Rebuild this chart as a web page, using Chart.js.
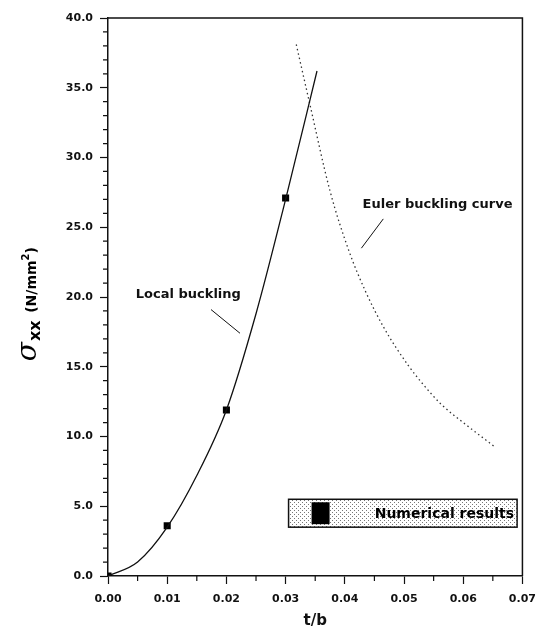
<!DOCTYPE html>
<html>
<head>
<meta charset="utf-8">
<script src="https://cdn.jsdelivr.net/npm/chart.js@4.4.1/dist/chart.umd.min.js"></script>
<style>
  html, body { margin: 0; padding: 0; background: #fff; }
  #wrap { width: 545px; height: 630px; }
</style>
</head>
<body>
<div id="wrap"><canvas id="chart" width="545" height="630"></canvas></div>
<script>
// local buckling curve (t/b, sigma_xx)
var localT = [0, 0.005, 0.01, 0.015, 0.02, 0.025, 0.03, 0.0353];
var localSigma = [0, 1.0, 3.5, 7.2, 11.9, 18.8, 27.0, 36.2];

// numerical results (squares)
var numT = [0, 0.01, 0.02, 0.03];
var numSigma = [0, 3.6, 11.9, 27.1];

// Euler buckling curve
var eulerT = [0.0318, 0.034, 0.0375, 0.0407, 0.0435, 0.0466, 0.0507, 0.0533, 0.0563, 0.0603, 0.0652];
var eulerSigma = [38.1, 34.0, 27.6, 23.3, 20.4, 17.8, 15.1, 13.7, 12.3, 10.9, 9.3];

var xTicks = [0, 0.01, 0.02, 0.03, 0.04, 0.05, 0.06, 0.07];
var yTicks = [0, 5, 10, 15, 20, 25, 30, 35, 40];

function toXY(xs, ys) {
  var out = [];
  for (var i = 0; i < xs.length; i++) out.push({x: xs[i], y: ys[i]});
  return out;
}

var boldFont = '"DejaVu Sans", sans-serif';

// stipple pattern for the legend box
function makeStipple(ctx) {
  var c = document.createElement('canvas');
  c.width = 4; c.height = 4;
  var g = c.getContext('2d');
  g.fillStyle = '#fff';
  g.fillRect(0, 0, 4, 4);
  g.fillStyle = '#777';
  g.fillRect(0, 0, 1, 1);
  g.fillRect(2, 2, 1, 1);
  return ctx.createPattern(c, 'repeat');
}

var extras = {
  id: 'extras',
  afterDraw: function(chart) {
    var ctx = chart.ctx;
    var a = chart.chartArea;
    var xs = chart.scales.x, ys = chart.scales.y;
    ctx.save();

    // frame top and right
    ctx.strokeStyle = '#111';
    ctx.lineWidth = 1.5;
    ctx.beginPath();
    ctx.moveTo(a.left, a.top);
    ctx.lineTo(a.right, a.top);
    ctx.lineTo(a.right, a.bottom);
    ctx.stroke();

    // minor ticks
    ctx.lineWidth = 1.2;
    ctx.beginPath();
    for (var v = 0.005; v < 0.07; v += 0.01) {
      var px = xs.getPixelForValue(v);
      ctx.moveTo(px, a.bottom);
      ctx.lineTo(px, a.bottom + 5);
    }
    for (var w = 1; w < 40; w++) {
      if (w % 5 === 0) continue;
      var py = ys.getPixelForValue(w);
      ctx.moveTo(a.left, py);
      ctx.lineTo(a.left - 5, py);
    }
    ctx.stroke();

    // annotations
    ctx.fillStyle = '#111';
    ctx.font = 'bold 13px ' + boldFont;
    ctx.textBaseline = 'middle';
    ctx.textAlign = 'left';
    ctx.fillText('Local buckling', xs.getPixelForValue(0.0047), ys.getPixelForValue(20.2));
    ctx.font = 'bold 13px ' + boldFont;
    ctx.fillText('Euler buckling curve', xs.getPixelForValue(0.043), ys.getPixelForValue(26.6));

    ctx.lineWidth = 1;
    ctx.beginPath();
    ctx.moveTo(xs.getPixelForValue(0.0174), ys.getPixelForValue(19.1));
    ctx.lineTo(xs.getPixelForValue(0.0223), ys.getPixelForValue(17.4));
    ctx.moveTo(xs.getPixelForValue(0.0465), ys.getPixelForValue(25.6));
    ctx.lineTo(xs.getPixelForValue(0.0428), ys.getPixelForValue(23.5));
    ctx.stroke();

    // legend box
    var lx0 = xs.getPixelForValue(0.0305), lx1 = xs.getPixelForValue(0.0691);
    var ly0 = ys.getPixelForValue(5.5), ly1 = ys.getPixelForValue(3.5);
    ctx.fillStyle = makeStipple(ctx);
    ctx.fillRect(lx0, ly0, lx1 - lx0, ly1 - ly0);
    ctx.lineWidth = 1.5;
    ctx.strokeStyle = '#111';
    ctx.strokeRect(lx0, ly0, lx1 - lx0, ly1 - ly0);
    ctx.fillStyle = '#000';
    ctx.fillRect(lx0 + 23, ly0 + 3, 18, ly1 - ly0 - 6);
    ctx.font = 'bold 14px ' + boldFont;
    ctx.textAlign = 'right';
    ctx.fillText(chart.data.datasets[1].label, lx1 - 3, (ly0 + ly1) / 2 + 1);

    // y axis title: sigma xx (N/mm2)
    ctx.translate(36, ys.getPixelForValue(15.4));
    ctx.rotate(-Math.PI / 2);
    ctx.textAlign = 'left';
    ctx.textBaseline = 'alphabetic';
    var cx = 0;
    ctx.font = 'italic 28px "DejaVu Serif", serif';
    ctx.fillText('\u03C3', cx, 0);
    cx += ctx.measureText('\u03C3').width + 1;
    ctx.font = 'bold 16px ' + boldFont;
    ctx.fillText('xx', cx, 4);
    cx += ctx.measureText('xx ').width + 2;
    ctx.font = 'bold 14px ' + boldFont;
    ctx.fillText('(N/mm', cx, 0);
    cx += ctx.measureText('(N/mm').width;
    ctx.font = 'bold 10px ' + boldFont;
    ctx.fillText('2', cx, -7);
    cx += ctx.measureText('2').width;
    ctx.font = 'bold 14px ' + boldFont;
    ctx.fillText(')', cx, 0);

    ctx.restore();
  }
};

var config = {
  type: 'scatter',
  data: {
    datasets: [{
      label: 'Local buckling',
      data: toXY(localT, localSigma),
      showLine: true,
      borderColor: '#111',
      borderWidth: 1.3,
      pointRadius: 0,
      cubicInterpolationMode: 'monotone'
    }, {
      label: 'Numerical results',
      data: toXY(numT, numSigma),
      showLine: false,
      pointStyle: 'rect',
      pointRadius: 5,
      backgroundColor: '#000',
      borderColor: '#000',
      borderWidth: 0
    }, {
      label: 'Euler buckling curve',
      data: toXY(eulerT, eulerSigma),
      showLine: true,
      borderColor: '#333',
      borderWidth: 1.3,
      borderDash: [1.5, 3],
      pointRadius: 0,
      cubicInterpolationMode: 'monotone'
    }]
  },
  options: {
    responsive: false,
    animation: false,
    layout: { padding: { top: 18, right: 18, left: 0, bottom: 0 } },
    plugins: {
      legend: { display: false },
      tooltip: { enabled: false }
    },
    scales: {
      x: {
        type: 'linear',
        min: 0,
        max: 0.07,
        afterFit: function(s) { s.height = 54; },
        afterBuildTicks: function(s) { s.ticks = xTicks.map(function(v) { return {value: v}; }); },
        ticks: {
          color: '#111',
          font: { family: boldFont, size: 11, weight: 'bold' },
          padding: 9,
          maxRotation: 0,
          callback: function(v) { return v.toFixed(2); }
        },
        grid: { drawOnChartArea: false, tickLength: 8, tickColor: '#111', tickWidth: 1.2 },
        border: { color: '#111', width: 1.5 },
        title: {
          display: true,
          text: 't/b',
          color: '#111',
          font: { family: boldFont, size: 15, weight: 'bold' },
          padding: { top: 4, bottom: 0 }
        }
      },
      y: {
        type: 'linear',
        min: 0,
        max: 40,
        afterFit: function(s) { s.width = 108; },
        afterBuildTicks: function(s) { s.ticks = yTicks.map(function(v) { return {value: v}; }); },
        ticks: {
          color: '#111',
          font: { family: boldFont, size: 11, weight: 'bold' },
          padding: 7,
          callback: function(v) { return v.toFixed(1); }
        },
        grid: { drawOnChartArea: false, tickLength: 8, tickColor: '#111', tickWidth: 1.2 },
        border: { color: '#111', width: 1.5 }
      }
    }
  },
  plugins: [extras]
};

var ctx = document.getElementById('chart').getContext('2d');
window.myChart = new Chart(ctx, config);
</script>
</body>
</html>
